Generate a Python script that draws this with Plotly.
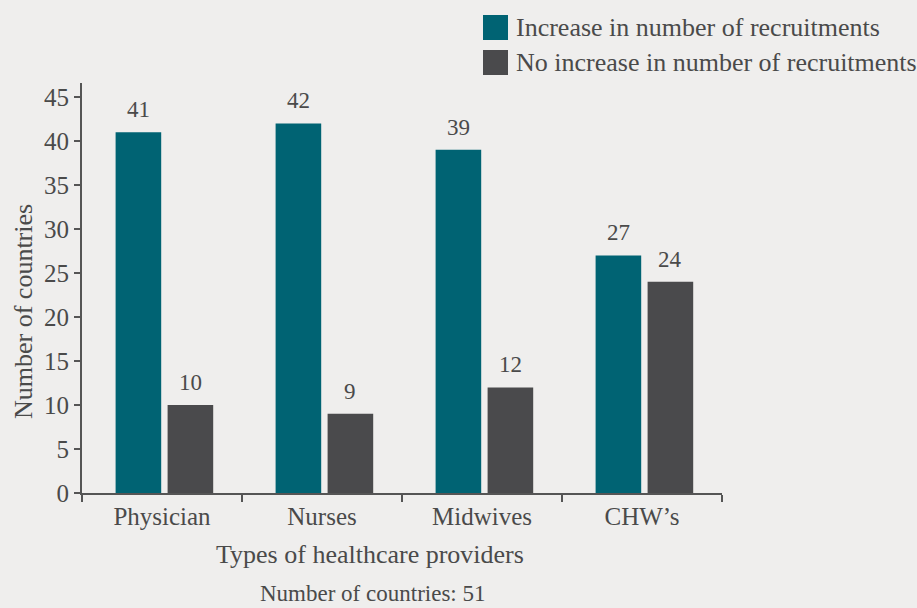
import plotly.graph_objects as go

# Survey results: countries reporting a change in recruitment, by provider type
providers = ["Physician", "Nurses", "Midwives", "CHW\u2019s"]
increase = [41, 42, 39, 27]
no_increase = [10, 9, 12, 24]
series_names = ["Increase in number of recruitments", "No increase in number of recruitments"]
y_ticks = [0, 5, 10, 15, 20, 25, 30, 35, 40, 45]

TEAL = "#006373"
GREY = "#4a4a4c"
TEXT = "#4a4a4a"
BG = "#efeeed"
FONT = "Liberation Serif, Times New Roman, serif"

W, H = 917, 608
M = dict(l=82, r=195, t=83, b=115)
plot_w = W - M["l"] - M["r"]
plot_h = H - M["t"] - M["b"]

bar_w = 0.285
offsets = [-0.29, 0.035]

fig = go.Figure()
for vals, color, name, off in zip([increase, no_increase], [TEAL, GREY], series_names, offsets):
    fig.add_trace(go.Bar(
        x=providers, y=vals, name=name,
        marker=dict(color=color, line=dict(width=0)),
        width=bar_w, offset=off, showlegend=False,
    ))
    for i, v in enumerate(vals):
        fig.add_annotation(
            x=i + off + bar_w / 2, y=v, text=str(v), showarrow=False,
            xref="x", yref="y", yanchor="bottom", yshift=8,
            font=dict(family=FONT, size=23, color=TEXT),
        )

# Legend drawn as square swatches with labels above the plot
def px_to_paper(px, py):
    return (px - M["l"]) / plot_w, (H - M["b"] - py) / plot_h

for k, (name, color) in enumerate(zip(series_names, [TEAL, GREY])):
    top = 15 + 35 * k
    x0, y0 = px_to_paper(483, top)
    x1, y1 = px_to_paper(508, top + 25)
    fig.add_shape(type="rect", xref="paper", yref="paper", x0=x0, x1=x1, y0=y1, y1=y0,
                  fillcolor=color, line=dict(width=0))
    tx, ty = px_to_paper(514, top + 12.5)
    fig.add_annotation(x=tx, y=ty, xref="paper", yref="paper", text=name, showarrow=False,
                       xanchor="left", yanchor="middle",
                       font=dict(family=FONT, size=26, color=TEXT))

# Axis titles and footnote
ax, ay = px_to_paper(370, 554)
fig.add_annotation(x=ax, y=ay, xref="paper", yref="paper", text="Types of healthcare providers",
                   showarrow=False, xanchor="center", yanchor="middle",
                   font=dict(family=FONT, size=26, color=TEXT))
ax, ay = px_to_paper(23, 312)
fig.add_annotation(x=ax, y=ay, xref="paper", yref="paper", text="Number of countries",
                   showarrow=False, textangle=-90, xanchor="center", yanchor="middle",
                   font=dict(family=FONT, size=26, color=TEXT))
ax, ay = px_to_paper(372, 593)
fig.add_annotation(x=ax, y=ay, xref="paper", yref="paper", text="Number of countries: 51",
                   showarrow=False, xanchor="center", yanchor="middle",
                   font=dict(family=FONT, size=23, color=TEXT))

fig.update_layout(
    width=W, height=H, margin=M,
    paper_bgcolor=BG, plot_bgcolor=BG,
    font=dict(family=FONT, color=TEXT),
    barmode="overlay",
    xaxis=dict(
        type="category", range=[-0.5, 3.5], tickson="boundaries",
        showline=True, linecolor="#555555", linewidth=2,
        ticks="outside", ticklen=7, tickwidth=2, tickcolor="#555555",
        showgrid=False, zeroline=False,
        tickfont=dict(family=FONT, size=25, color=TEXT),
    ),
    yaxis=dict(
        range=[0, 46.6], tickvals=y_ticks,
        showline=True, linecolor="#555555", linewidth=2,
        ticks="outside", ticklen=6, tickwidth=2, tickcolor="#555555",
        showgrid=False, zeroline=False,
        tickfont=dict(family=FONT, size=25, color=TEXT),
    ),
)

fig.write_html("out.html")
